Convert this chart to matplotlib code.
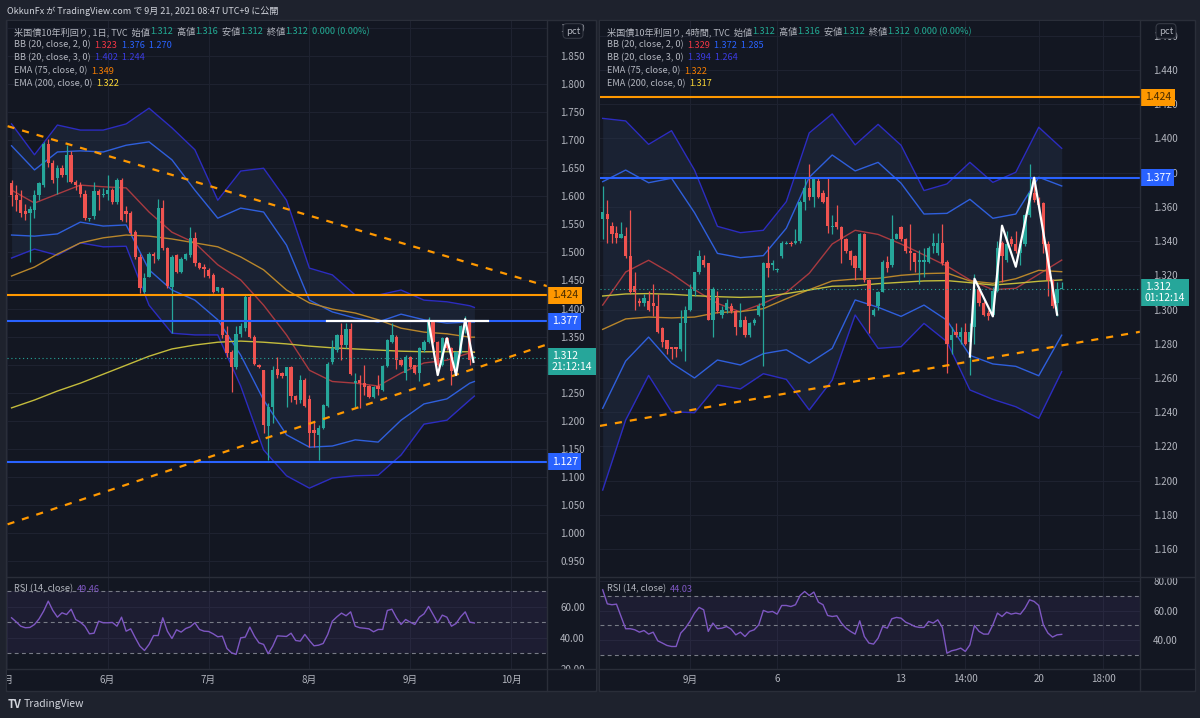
import numpy as np
import matplotlib
matplotlib.use("Agg")
import matplotlib.pyplot as plt
from matplotlib.lines import Line2D
from matplotlib.patches import Rectangle
from matplotlib.ticker import FormatStrFormatter
from matplotlib.transforms import blended_transform_factory

plt.rcParams['font.family'] = ['Noto Sans CJK JP', 'DejaVu Sans']

# ---------------- 日足 (left chart) ----------------
d_open = [1.623, 1.602, 1.593, 1.573, 1.570, 1.576, 1.602, 1.620, 1.694, 1.659,
          1.632, 1.650, 1.638, 1.674, 1.626, 1.620, 1.605, 1.560, 1.565, 1.610,
          1.602, 1.605, 1.612, 1.589, 1.629, 1.573, 1.571, 1.537, 1.492, 1.430,
          1.457, 1.497, 1.489, 1.579, 1.507, 1.439, 1.495, 1.466, 1.489, 1.495,
          1.525, 1.481, 1.474, 1.469, 1.460, 1.432, 1.436, 1.353, 1.323, 1.296,
          1.355, 1.365, 1.421, 1.350, 1.299, 1.290, 1.190, 1.225, 1.293, 1.285,
          1.279, 1.296, 1.244, 1.237, 1.273, 1.238, 1.183, 1.175, 1.187, 1.226,
          1.305, 1.326, 1.353, 1.335, 1.363, 1.268, 1.272, 1.267, 1.262, 1.243,
          1.262, 1.255, 1.297, 1.341, 1.350, 1.308, 1.285, 1.314, 1.299, 1.286,
          1.326, 1.341, 1.377, 1.341, 1.299, 1.347, 1.329, 1.288, 1.323, 1.362,
          1.376, 1.312]
d_high = [1.629, 1.620, 1.611, 1.587, 1.582, 1.611, 1.626, 1.697, 1.703, 1.665,
          1.656, 1.656, 1.691, 1.680, 1.629, 1.626, 1.611, 1.562, 1.626, 1.613,
          1.614, 1.638, 1.614, 1.632, 1.632, 1.582, 1.573, 1.540, 1.498, 1.463,
          1.501, 1.501, 1.596, 1.593, 1.510, 1.495, 1.498, 1.492, 1.499, 1.546,
          1.537, 1.483, 1.480, 1.472, 1.463, 1.439, 1.438, 1.368, 1.326, 1.368,
          1.375, 1.424, 1.424, 1.353, 1.301, 1.291, 1.231, 1.297, 1.314, 1.287,
          1.296, 1.297, 1.246, 1.282, 1.276, 1.246, 1.198, 1.192, 1.229, 1.304,
          1.344, 1.355, 1.374, 1.374, 1.374, 1.285, 1.281, 1.299, 1.264, 1.262,
          1.281, 1.299, 1.345, 1.374, 1.353, 1.310, 1.317, 1.316, 1.300, 1.332,
          1.344, 1.385, 1.379, 1.343, 1.350, 1.349, 1.331, 1.325, 1.370, 1.386,
          1.378, 1.316]
d_low = [1.582, 1.573, 1.564, 1.557, 1.483, 1.561, 1.593, 1.617, 1.653, 1.623,
         1.605, 1.635, 1.626, 1.623, 1.611, 1.599, 1.558, 1.556, 1.560, 1.576,
         1.599, 1.593, 1.587, 1.587, 1.556, 1.555, 1.531, 1.489, 1.427, 1.427,
         1.457, 1.481, 1.486, 1.504, 1.437, 1.356, 1.463, 1.463, 1.486, 1.492,
         1.475, 1.470, 1.457, 1.455, 1.427, 1.430, 1.348, 1.314, 1.252, 1.293,
         1.350, 1.360, 1.348, 1.300, 1.294, 1.178, 1.130, 1.196, 1.276, 1.276,
         1.225, 1.234, 1.230, 1.231, 1.224, 1.154, 1.154, 1.130, 1.185, 1.224,
         1.302, 1.322, 1.308, 1.329, 1.281, 1.225, 1.222, 1.246, 1.240, 1.240,
         1.246, 1.253, 1.296, 1.338, 1.293, 1.297, 1.273, 1.294, 1.283, 1.270,
         1.323, 1.338, 1.339, 1.297, 1.297, 1.326, 1.264, 1.285, 1.321, 1.356,
         1.299, 1.312]
d_close = [1.602, 1.593, 1.570, 1.569, 1.577, 1.602, 1.623, 1.694, 1.659, 1.629,
           1.650, 1.638, 1.674, 1.626, 1.620, 1.605, 1.561, 1.561, 1.610, 1.602,
           1.605, 1.612, 1.589, 1.629, 1.558, 1.569, 1.534, 1.492, 1.436, 1.455,
           1.498, 1.494, 1.579, 1.507, 1.440, 1.492, 1.466, 1.489, 1.497, 1.525,
           1.481, 1.472, 1.470, 1.458, 1.430, 1.438, 1.353, 1.320, 1.296, 1.355,
           1.368, 1.421, 1.350, 1.302, 1.296, 1.193, 1.225, 1.291, 1.282, 1.279,
           1.296, 1.244, 1.237, 1.273, 1.226, 1.178, 1.178, 1.187, 1.228, 1.302,
           1.329, 1.353, 1.335, 1.363, 1.283, 1.271, 1.268, 1.261, 1.243, 1.261,
           1.256, 1.297, 1.344, 1.353, 1.308, 1.299, 1.314, 1.296, 1.285, 1.329,
           1.341, 1.377, 1.341, 1.299, 1.347, 1.329, 1.288, 1.323, 1.368, 1.377,
           1.308, 1.312]

# indicator lines, read every 5 bars
d_band_idx = [0, 5, 10, 15, 20, 25, 30, 35, 40, 45, 50, 55, 60, 65, 70, 75, 80, 85, 90, 95, 100, 101]
d_up3 = [1.729, 1.674, 1.727, 1.718, 1.718, 1.729, 1.757, 1.722, 1.683, 1.593, 1.645,
         1.650, 1.593, 1.472, 1.460, 1.424, 1.424, 1.433, 1.415, 1.412, 1.405, 1.402]
d_up2 = [1.690, 1.647, 1.679, 1.681, 1.679, 1.691, 1.697, 1.665, 1.611, 1.561, 1.579,
         1.572, 1.513, 1.415, 1.394, 1.383, 1.376, 1.390, 1.380, 1.374, 1.376, 1.376]
d_basis = [1.611, 1.588, 1.604, 1.620, 1.617, 1.615, 1.572, 1.536, 1.517, 1.478, 1.451,
           1.406, 1.353, 1.290, 1.270, 1.267, 1.262, 1.285, 1.303, 1.308, 1.321, 1.323]
d_lo2 = [1.531, 1.529, 1.533, 1.554, 1.547, 1.549, 1.469, 1.433, 1.415, 1.380, 1.317,
         1.237, 1.175, 1.153, 1.155, 1.166, 1.162, 1.201, 1.230, 1.239, 1.267, 1.270]
d_lo3 = [1.490, 1.506, 1.495, 1.517, 1.510, 1.511, 1.406, 1.356, 1.353, 1.353, 1.262,
         1.148, 1.102, 1.080, 1.098, 1.102, 1.103, 1.139, 1.194, 1.201, 1.237, 1.244]
d_ema75 = [1.458, 1.474, 1.497, 1.517, 1.526, 1.531, 1.529, 1.524, 1.517, 1.510, 1.492,
           1.469, 1.433, 1.410, 1.399, 1.392, 1.380, 1.365, 1.358, 1.355, 1.349, 1.349]
d_ema200 = [1.223, 1.237, 1.253, 1.267, 1.283, 1.299, 1.315, 1.328, 1.335, 1.340, 1.342,
            1.340, 1.337, 1.333, 1.330, 1.328, 1.326, 1.324, 1.323, 1.323, 1.323, 1.322]

d_rsi = [52.8, 50.2, 47.4, 46.4, 46.6, 48.5, 52.1, 57.1, 63.5, 57.5,
         53.2, 56.0, 54.9, 58.3, 51.7, 50.0, 47.4, 42.5, 42.9, 50.6,
         49.6, 49.6, 49.8, 47.4, 53.2, 44.2, 45.7, 39.9, 34.6, 31.8,
         35.7, 41.4, 41.4, 52.8, 44.2, 39.5, 45.1, 43.6, 45.9, 47.0,
         49.6, 45.3, 44.2, 44.0, 42.5, 40.6, 41.0, 33.1, 30.3, 29.3,
         39.9, 40.4, 46.8, 41.0, 36.7, 35.7, 29.7, 34.6, 41.2, 41.0,
         40.8, 42.9, 38.2, 37.8, 42.1, 38.2, 34.8, 35.2, 36.3, 42.1,
         50.6, 53.4, 55.8, 54.1, 56.6, 47.4, 46.4, 46.1, 45.7, 43.8,
         45.3, 45.3, 57.5, 58.3, 52.8, 48.5, 51.7, 50.0, 48.5, 53.2,
         55.3, 60.1, 54.9, 49.6, 54.5, 53.2, 47.4, 49.1, 53.4, 56.6,
         50.0, 49.46]

d_tick_pos = [-1, 21, 43, 65, 87, 109]
d_tick_lbl = ['5月', '6月', '7月', '8月', '9月', '10月']

# drawings (bar index, yield)
d_levels = [1.424, 1.377, 1.127]
d_down_x, d_down_y = [-0.87, 116.85], [1.725, 1.440]
d_up_x, d_up_y = [-0.87, 116.85], [1.0155, 1.336]
d_top_x, d_top_y = [68.9, 104.0], [1.377, 1.377]
d_w_x = [91, 93, 95, 97, 99, 100.8]
d_w_y = [1.378, 1.2815, 1.347, 1.2815, 1.381, 1.305]

# ---------------- 4時間足 (right chart) ----------------
h_open = [1.353, 1.356, 1.349, 1.345, 1.342, 1.343, 1.331, 1.314, 1.305, 1.304,
          1.305, 1.304, 1.302, 1.289, 1.282, 1.278, 1.278, 1.277, 1.292, 1.300,
          1.311, 1.322, 1.329, 1.327, 1.294, 1.307, 1.297, 1.300, 1.302, 1.299,
          1.290, 1.294, 1.285, 1.292, 1.297, 1.302, 1.327, 1.326, 1.323, 1.331,
          1.338, 1.339, 1.339, 1.340, 1.363, 1.371, 1.366, 1.375, 1.368, 1.366,
          1.348, 1.351, 1.348, 1.341, 1.334, 1.331, 1.324, 1.344, 1.317, 1.297,
          1.302, 1.310, 1.328, 1.326, 1.341, 1.348, 1.341, 1.334, 1.333, 1.328,
          1.328, 1.328, 1.337, 1.333, 1.339, 1.328, 1.282, 1.287, 1.284, 1.287,
          1.281, 1.290, 1.312, 1.304, 1.298, 1.297, 1.311, 1.339, 1.329, 1.341,
          1.338, 1.333, 1.338, 1.355, 1.368, 1.364, 1.362, 1.338, 1.317, 1.304,
          1.312]
h_high = [1.372, 1.364, 1.351, 1.349, 1.351, 1.348, 1.358, 1.322, 1.307, 1.309,
          1.311, 1.315, 1.309, 1.290, 1.282, 1.278, 1.278, 1.300, 1.302, 1.315,
          1.322, 1.335, 1.332, 1.327, 1.313, 1.311, 1.302, 1.306, 1.304, 1.300,
          1.304, 1.296, 1.293, 1.295, 1.304, 1.328, 1.337, 1.329, 1.324, 1.340,
          1.340, 1.340, 1.347, 1.364, 1.377, 1.385, 1.377, 1.377, 1.370, 1.377,
          1.355, 1.361, 1.349, 1.342, 1.335, 1.332, 1.345, 1.345, 1.318, 1.301,
          1.311, 1.329, 1.331, 1.355, 1.345, 1.349, 1.342, 1.350, 1.333, 1.335,
          1.336, 1.337, 1.345, 1.345, 1.350, 1.329, 1.290, 1.292, 1.290, 1.292,
          1.292, 1.321, 1.314, 1.305, 1.300, 1.313, 1.340, 1.340, 1.346, 1.343,
          1.346, 1.340, 1.356, 1.385, 1.377, 1.366, 1.363, 1.340, 1.318, 1.316,
          1.316]
h_low = [1.341, 1.339, 1.339, 1.339, 1.342, 1.330, 1.309, 1.300, 1.302, 1.302,
         1.299, 1.296, 1.286, 1.278, 1.274, 1.271, 1.272, 1.276, 1.270, 1.299,
         1.308, 1.321, 1.325, 1.294, 1.284, 1.298, 1.295, 1.298, 1.298, 1.285,
         1.290, 1.284, 1.284, 1.291, 1.296, 1.267, 1.319, 1.323, 1.322, 1.330,
         1.338, 1.337, 1.338, 1.339, 1.358, 1.364, 1.360, 1.365, 1.362, 1.345,
         1.344, 1.347, 1.327, 1.333, 1.326, 1.317, 1.323, 1.316, 1.286, 1.296,
         1.300, 1.310, 1.322, 1.325, 1.341, 1.340, 1.333, 1.323, 1.322, 1.315,
         1.319, 1.327, 1.333, 1.332, 1.326, 1.263, 1.274, 1.284, 1.280, 1.279,
         1.262, 1.280, 1.302, 1.296, 1.294, 1.296, 1.310, 1.316, 1.328, 1.337,
         1.333, 1.326, 1.337, 1.354, 1.363, 1.358, 1.333, 1.308, 1.301, 1.296,
         1.312]
h_close = [1.357, 1.353, 1.344, 1.342, 1.344, 1.331, 1.310, 1.310, 1.304, 1.307,
           1.300, 1.302, 1.287, 1.281, 1.277, 1.277, 1.277, 1.292, 1.300, 1.312,
           1.322, 1.331, 1.326, 1.294, 1.312, 1.299, 1.300, 1.304, 1.299, 1.290,
           1.294, 1.285, 1.292, 1.294, 1.302, 1.327, 1.324, 1.327, 1.323, 1.339,
           1.339, 1.338, 1.340, 1.363, 1.371, 1.366, 1.377, 1.366, 1.363, 1.349,
           1.349, 1.348, 1.341, 1.334, 1.329, 1.324, 1.344, 1.317, 1.302, 1.300,
           1.310, 1.328, 1.324, 1.341, 1.344, 1.341, 1.334, 1.333, 1.328, 1.329,
           1.329, 1.336, 1.339, 1.339, 1.327, 1.280, 1.285, 1.285, 1.287, 1.280,
           1.287, 1.312, 1.304, 1.297, 1.296, 1.311, 1.336, 1.331, 1.338, 1.338,
           1.334, 1.338, 1.355, 1.368, 1.364, 1.361, 1.338, 1.317, 1.302, 1.312,
           1.312]

h_band_idx = [0, 5, 10, 15, 20, 25, 30, 35, 40, 45, 50, 55, 60, 65, 70, 75, 80, 85, 90, 95, 100]
h_up3 = [1.4117, 1.4102, 1.3965, 1.4045, 1.3815, 1.3486, 1.3449, 1.3463, 1.3630, 1.4032, 1.4143,
         1.3962, 1.4082, 1.3960, 1.3695, 1.3734, 1.3860, 1.3743, 1.3802, 1.4065, 1.3942]
h_up2 = [1.3747, 1.3815, 1.3741, 1.3767, 1.3566, 1.3328, 1.3303, 1.3315, 1.3475, 1.3773, 1.3903,
         1.3810, 1.3860, 1.3738, 1.3558, 1.3562, 1.3644, 1.3533, 1.3558, 1.3773, 1.3722]
h_basis = [1.3026, 1.3219, 1.3288, 1.3210, 1.3116, 1.3036, 1.2986, 1.3036, 1.3100, 1.3212, 1.3383,
           1.3463, 1.3439, 1.3383, 1.3319, 1.3254, 1.3173, 1.3116, 1.3124, 1.3206, 1.3289]
h_lo2 = [1.2423, 1.2699, 1.2839, 1.2687, 1.2600, 1.2705, 1.2676, 1.2742, 1.2765, 1.2686, 1.2773,
         1.3056, 1.3013, 1.2960, 1.3026, 1.2937, 1.2732, 1.2682, 1.2668, 1.2613, 1.2850]
h_lo3 = [1.1945, 1.2354, 1.2615, 1.2403, 1.2397, 1.2559, 1.2536, 1.2625, 1.2592, 1.2413, 1.2588,
         1.2968, 1.2773, 1.2783, 1.2919, 1.2812, 1.2530, 1.2475, 1.2432, 1.2364, 1.2637]
h_ema75 = [1.2884, 1.2945, 1.2956, 1.2951, 1.2956, 1.2982, 1.2988, 1.3005, 1.3063, 1.3116, 1.3167,
           1.3178, 1.3182, 1.3200, 1.3210, 1.3213, 1.3167, 1.3153, 1.3180, 1.3229, 1.3221]
h_ema200 = [1.3079, 1.3091, 1.3093, 1.3089, 1.3081, 1.3075, 1.3071, 1.3075, 1.3093, 1.3114, 1.3136,
            1.3139, 1.3151, 1.3159, 1.3167, 1.3169, 1.3157, 1.3143, 1.3153, 1.3165, 1.3173]

h_rsi = [73.9, 64.5, 63.9, 64.3, 56.0, 47.8, 47.8, 47.1, 45.5, 46.6,
         44.2, 45.5, 39.7, 38.2, 36.6, 35.9, 35.9, 44.9, 48.2, 52.7,
         58.3, 62.1, 60.5, 46.0, 51.6, 47.8, 48.2, 49.3, 47.5, 43.7,
         45.5, 42.6, 46.0, 47.1, 50.4, 60.1, 58.9, 59.4, 57.6, 63.4,
         63.4, 62.7, 63.9, 70.1, 72.8, 70.1, 72.4, 65.6, 63.9, 56.7,
         56.0, 56.5, 51.6, 48.2, 46.0, 44.2, 53.1, 42.6, 38.2, 37.5,
         41.5, 49.3, 48.2, 54.5, 55.4, 54.9, 52.2, 50.9, 49.3, 48.7,
         48.7, 52.7, 51.6, 53.8, 48.7, 31.4, 33.0, 33.7, 34.8, 32.6,
         37.0, 50.0, 46.0, 44.2, 44.2, 50.4, 58.3, 56.0, 58.9, 57.6,
         58.3, 57.6, 61.6, 67.2, 66.1, 63.4, 50.4, 44.9, 42.2, 43.7,
         44.03]

h_tick_pos = [19, 38, 65, 79, 95, 109]
h_tick_lbl = ['9月', '6', '13', '14:00', '20', '18:00']

h_levels = [1.424, 1.377]
h_up_x, h_up_y = [-0.59, 117.06], [1.232, 1.287]
h_z_x = [80, 81, 85, 87, 90, 94, 99]
h_z_y = [1.2725, 1.318, 1.296, 1.349, 1.325, 1.377, 1.297]

# ---------------- style ----------------
BG = '#1e222d'
PANE = '#131722'
BORDER = '#2a2e39'
GRID = '#1e2230'
TXT = '#b2b5be'
TEAL = '#26a69a'
RED = '#ef5350'
ORANGE = '#ff9800'
BLUE = '#2962ff'
BASIS_C = '#a83a40'
BB2_C = '#2f5fdc'
BB3_C = '#2c2cc0'
E75_C = '#b8862b'
E200_C = '#c4bc3c'
RSI_C = '#7e57c2'

W, H = 1200, 718
Y_TOP, Y_SEP, Y_RSI, Y_BOT = 21, 577, 669, 690

fig = plt.figure(figsize=(W / 100, H / 100), dpi=100, facecolor=BG)


def fax(x0, y0, x1, y1):
    a = fig.add_axes([x0 / W, 1 - y1 / H, (x1 - x0) / W, (y1 - y0) / H])
    a.set_facecolor(PANE)
    for s in a.spines.values():
        s.set_visible(False)
    return a


def fline(x0, y0, x1, y1, color=BORDER, lw=1.0):
    fig.add_artist(Line2D([x0 / W, x1 / W], [1 - y0 / H, 1 - y1 / H], color=color, lw=lw,
                          transform=fig.transFigure, zorder=5))


def rich(ax, x, y, parts, size=6.6):
    t = ax.text(x / W, 1 - y / H, parts[0][0], color=parts[0][1], fontsize=size,
                ha='left', va='center', transform=fig.transFigure, zorder=30, clip_on=False)
    for s, col in parts[1:]:
        t = ax.annotate(s, xy=(1, 0.5), xycoords=t, ha='left', va='center', color=col,
                        fontsize=size, zorder=30, annotation_clip=False)


def tag(ax, v, text, fc, tc, top=False):
    tr = blended_transform_factory(ax.transAxes, ax.transData)
    ax.annotate(text, xy=(1, v), xycoords=tr, xytext=(3.4, 4.7 if top else 0),
                textcoords='offset points', ha='left', va='top' if top else 'center',
                fontsize=7.5, color=tc, linespacing=1.05,
                bbox=dict(boxstyle='square,pad=0.34', fc=fc, ec='none'),
                zorder=40, annotation_clip=False)


def panel(x0, x1, xr, bar0, step, o, h, l, c, minh, ylim, yticks, hidden,
          bidx, up3, up2, basis, lo2, lo3, e75, e200, rsi, rsi_lim, rsi_ticks,
          tpos, tlbl):
    fig.add_artist(Rectangle(((x0 - 1) / W, 1 - (Y_BOT + 1) / H), (xr - x0 + 1) / W,
                             (Y_BOT + 1 - (Y_TOP - 1)) / H, transform=fig.transFigure,
                             fc=PANE, ec=BORDER, lw=1, zorder=-5))
    xl = ((x0 - bar0) / step, (x1 - bar0) / step)

    ax = fax(x0, Y_TOP, x1, Y_SEP)
    ax.set_xlim(xl)
    ax.set_ylim(ylim)
    ax.set_yticks(yticks)
    ax.set_yticklabels(['' if round(v, 3) in hidden else '%.3f' % v for v in yticks])
    ax.set_xticks(tpos)
    ax.grid(True, color=GRID, lw=0.8)
    ax.set_axisbelow(True)
    ax.tick_params(axis='y', left=False, right=False, labelleft=False, labelright=True,
                   pad=6, labelsize=7, labelcolor=TXT)
    ax.tick_params(axis='x', bottom=False, labelbottom=False)

    # Bollinger bands + EMAs
    ax.fill_between(bidx, lo3, up3, color='#26344d', alpha=0.4, lw=0, zorder=1)
    ax.plot(bidx, up3, color=BB3_C, lw=1.0, zorder=2)
    ax.plot(bidx, lo3, color=BB3_C, lw=1.0, zorder=2)
    ax.plot(bidx, up2, color=BB2_C, lw=1.0, zorder=2)
    ax.plot(bidx, lo2, color=BB2_C, lw=1.0, zorder=2)
    ax.plot(bidx, basis, color=BASIS_C, lw=1.0, zorder=2)
    ax.plot(bidx, e75, color=E75_C, lw=1.0, zorder=2)
    ax.plot(bidx, e200, color=E200_C, lw=1.0, zorder=2)

    # candles
    o, h, l, c = map(np.asarray, (o, h, l, c))
    i = np.arange(len(o))
    col = np.where(c >= o, TEAL, RED)
    ax.vlines(i, l, h, colors=col, lw=0.9, zorder=4)
    ax.bar(i, np.maximum(np.abs(c - o), minh), 0.72, np.minimum(o, c), color=col, lw=0, zorder=5)
    ax.axhline(c[-1], color=TEAL, lw=0.8, ls=(0, (1, 2.5)), zorder=6)

    # RSI pane
    ar = fax(x0, Y_SEP, x1, Y_RSI)
    ar.set_xlim(xl)
    ar.set_ylim(rsi_lim)
    ar.set_yticks(rsi_ticks)
    ar.yaxis.set_major_formatter(FormatStrFormatter('%.2f'))
    ar.set_xticks(tpos)
    ar.grid(True, color=GRID, lw=0.8)
    ar.set_axisbelow(True)
    ar.tick_params(axis='y', left=False, right=False, labelleft=False, labelright=True,
                   pad=6, labelsize=7, labelcolor=TXT)
    ar.tick_params(axis='x', bottom=False, labelbottom=False)
    ar.axhspan(30, 70, color=RSI_C, alpha=0.1, lw=0, zorder=1)
    for lv in (30, 50, 70):
        ar.axhline(lv, color='#787b86', lw=0.8, ls=(0, (3.5, 3)), zorder=2)
    ar.plot(np.arange(len(rsi)), rsi, color=RSI_C, lw=1.0, zorder=3)
    rich(ar, x0 + 7, 589, [('RSI (14, close)  ', TXT), ('%.2f' % rsi[-1], RSI_C)])

    # time axis strip
    ab = fax(x0, Y_RSI, xr, Y_BOT)
    ab.set_xlim(xl[0], (xr - bar0) / step)
    ab.set_ylim(0, 1)
    ab.set_xticks([])
    ab.set_yticks([])
    for p, s in zip(tpos, tlbl):
        ab.text(p, 0.5, s, ha='center', va='center', color=TXT, fontsize=7, clip_on=True)

    # borders
    fline(x1, Y_TOP - 1, x1, Y_BOT + 1)
    fline(x0 - 1, Y_SEP, xr, Y_SEP)
    fline(x0 - 1, Y_RSI, xr, Y_RSI)
    fig.text((x1 + 26) / W, 1 - 31 / H, 'pct', ha='center', va='center', fontsize=6.8,
             color=TXT, zorder=50,
             bbox=dict(boxstyle='round,pad=0.3,rounding_size=0.4', fc=PANE, ec='#363a45', lw=0.8))
    return ax


# ---------------- left: daily ----------------
axl = panel(7, 547, 596, 11, 4.587, d_open, d_high, d_low, d_close, 0.0018,
            (0.9216, 1.9124), np.round(np.arange(0.95, 1.9001, 0.05), 3), [1.3],
            d_band_idx, d_up3, d_up2, d_basis, d_lo2, d_lo3, d_ema75, d_ema200,
            d_rsi, (19.9, 79.0), [20, 40, 60], d_tick_pos, d_tick_lbl)
axl.axhline(d_levels[0], color=ORANGE, lw=1.5, zorder=6)
axl.axhline(d_levels[1], color=BLUE, lw=1.5, zorder=6)
axl.axhline(d_levels[2], color=BLUE, lw=1.5, zorder=6)
axl.plot(d_down_x, d_down_y, color=ORANGE, lw=1.6, ls=(0, (3.2, 3.6)), zorder=7)
axl.plot(d_up_x, d_up_y, color=ORANGE, lw=1.6, ls=(0, (3.2, 3.6)), zorder=7)
axl.plot(d_top_x, d_top_y, color='white', lw=1.6, zorder=8)
axl.plot(d_w_x, d_w_y, color='white', lw=1.6, zorder=8)
tag(axl, d_levels[0], '%.3f' % d_levels[0], ORANGE, '#4a2c00')
tag(axl, d_levels[1], '%.3f' % d_levels[1], BLUE, 'white')
tag(axl, d_levels[2], '%.3f' % d_levels[2], BLUE, 'white')
tag(axl, d_close[-1], '%.3f\n21:12:14' % d_close[-1], TEAL, 'white', top=True)

# ---------------- right: 4h ----------------
axr = panel(600, 1140, 1195, 602.7, 4.59, h_open, h_high, h_low, h_close, 0.0006,
            (1.1437, 1.4686), np.round(np.arange(1.16, 1.4601, 0.02), 3), [],
            h_band_idx, h_up3, h_up2, h_basis, h_lo2, h_lo3, h_ema75, h_ema200,
            h_rsi, (20.8, 82.5), [40, 60, 80], h_tick_pos, h_tick_lbl)
axr.axhline(h_levels[0], color=ORANGE, lw=1.5, zorder=6)
axr.axhline(h_levels[1], color=BLUE, lw=1.5, zorder=6)
axr.plot(h_up_x, h_up_y, color=ORANGE, lw=1.6, ls=(0, (3.2, 3.6)), zorder=7)
axr.plot(h_z_x, h_z_y, color='white', lw=1.6, zorder=8)
tag(axr, h_levels[0], '%.3f' % h_levels[0], ORANGE, '#4a2c00')
tag(axr, h_levels[1], '%.3f' % h_levels[1], BLUE, 'white')
tag(axr, h_close[-1], '%.3f\n01:12:14' % h_close[-1], TEAL, 'white', top=True)

# ---------------- legends / titles ----------------
OHLC_C = '#22ab94'


def legend(ax, x, tf, o, h, l, c, basis, up2, lo2, up3, lo3, e75, e200):
    rich(ax, x, 32, [('米国債10年利回り, %s, TVC  始値' % tf, TXT), ('%.3f' % o[-1], OHLC_C),
                     ('  高値', TXT), ('%.3f' % h[-1], OHLC_C), ('  安値', TXT),
                     ('%.3f' % l[-1], OHLC_C), ('  終値', TXT), ('%.3f' % c[-1], OHLC_C),
                     ('  0.000 (0.00%)', OHLC_C)])
    rich(ax, x, 45, [('BB (20, close, 2, 0)  ', TXT), ('%.3f' % basis[-1], '#f23645'),
                     ('  %.3f  %.3f' % (up2[-1], lo2[-1]), BLUE)])
    rich(ax, x, 58, [('BB (20, close, 3, 0)  ', TXT), ('%.3f  %.3f' % (up3[-1], lo3[-1]), '#3b3be0')])
    rich(ax, x, 71, [('EMA (75, close, 0)  ', TXT), ('%.3f' % e75[-1], '#f57c00')])
    rich(ax, x, 84, [('EMA (200, close, 0)  ', TXT), ('%.3f' % e200[-1], '#fdd835')])


legend(axl, 14, '1日', d_open, d_high, d_low, d_close, d_basis, d_up2, d_lo2, d_up3, d_lo3,
       d_ema75, d_ema200)
legend(axr, 607, '4時間', h_open, h_high, h_low, h_close, h_basis, h_up2, h_lo2, h_up3, h_lo3,
       h_ema75, h_ema200)

fig.text(7 / W, 1 - 11 / H, 'OkkunFx が TradingView.com で 9月 21, 2021 08:47 UTC+9 に公開',
         ha='left', va='center', fontsize=6.5, color='#d1d4dc')
fig.text(8 / W, 1 - 704 / H, 'TV', ha='left', va='center', fontsize=8, fontweight='bold',
         color='#d1d4dc')
fig.text(24 / W, 1 - 704 / H, 'TradingView', ha='left', va='center', fontsize=7.5,
         color='#d1d4dc')

fig.savefig('out.png', dpi=100, facecolor=BG)
